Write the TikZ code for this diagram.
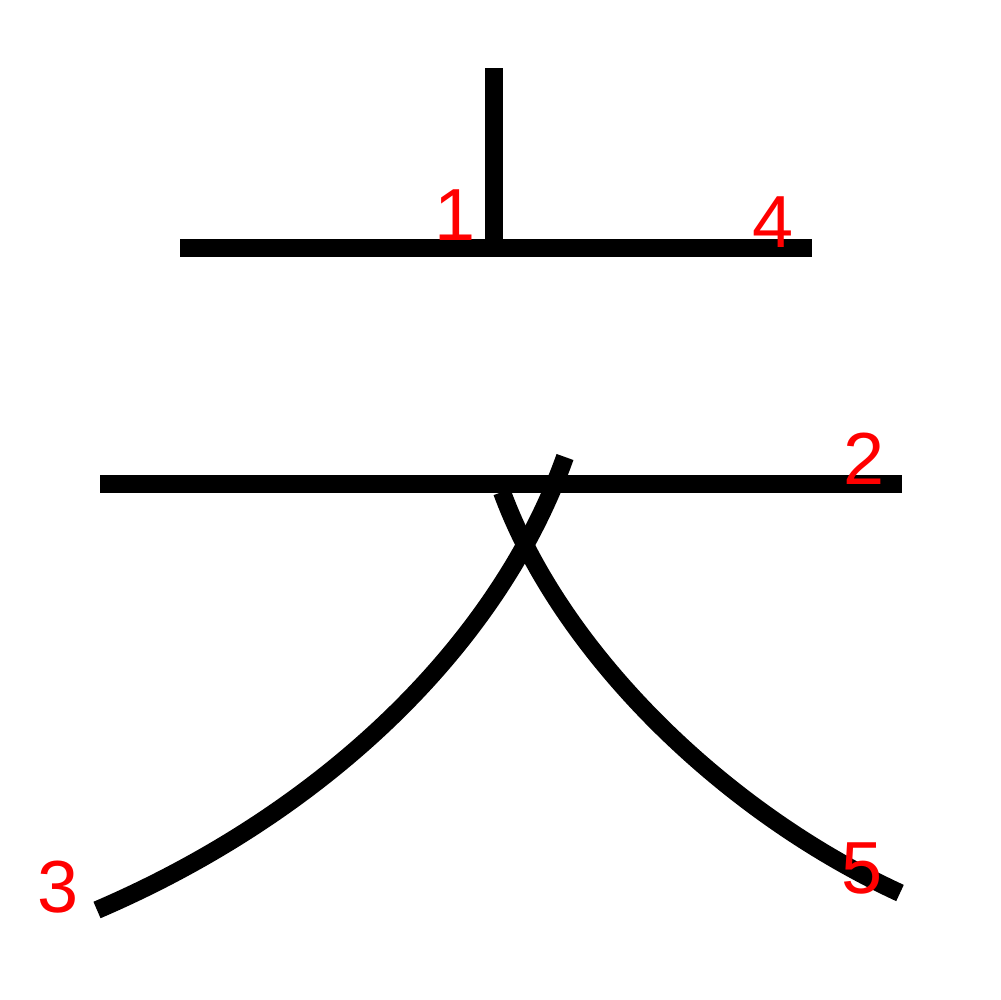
\documentclass[tikz,border=0pt]{standalone}
\usepackage{fontspec}
\setmainfont{Liberation Sans}
\tikzset{
  stroke/.style={line width=5.1pt,black},
  num/.style={text=red,font=\fontsize{21}{25}\selectfont,inner sep=0pt}
}
\begin{document}
\begin{tikzpicture}[x=0.1mm,y=-0.1mm]
  \useasboundingbox (0,0) rectangle (1000,1000);
  % strokes
  \draw[stroke] (494,68) -- (494,240);
  \draw[stroke] (100,484) -- (902,484);
  \draw[stroke] (565,457) .. controls (500,640) and (330,810) .. (97,910);
  \draw[stroke] (180,248) -- (812,248);
  \draw[stroke] (502,492) .. controls (560,650) and (720,810) .. (900,893);
  % stroke numbers
  \node[num] (n1) at (455,215) {1};
  \node[num] (n2) at (864,459) {2};
  \node[num] (n3) at (58,887) {3};
  \node[num] (n4) at (773,222) {4};
  \node[num] (n5) at (862,868) {5};
\end{tikzpicture}
\end{document}
